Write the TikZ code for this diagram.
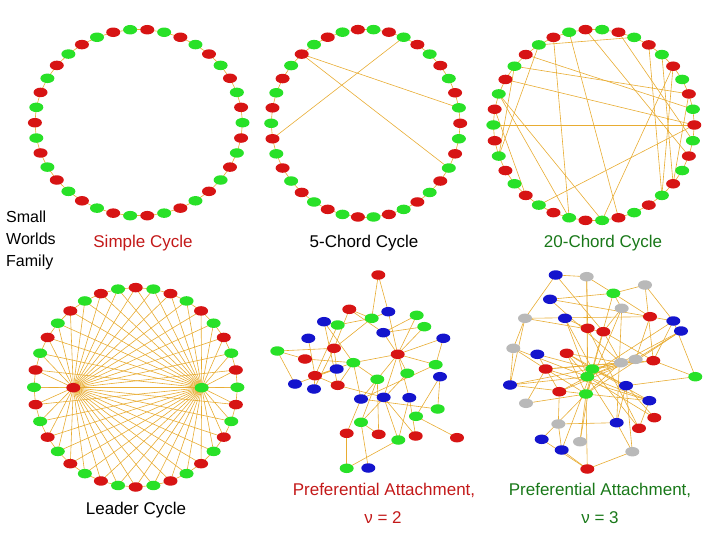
\documentclass[tikz,border=0pt]{standalone}
\usepackage{fontspec}
\setmainfont{Liberation Sans}
\usetikzlibrary{shapes.geometric}
\pgfdeclarelayer{bg}
\pgfsetlayers{bg,main}
\definecolor{nred}{RGB}{215,20,20}
\definecolor{ngreen}{RGB}{40,225,40}
\definecolor{nblue}{RGB}{20,20,205}
\definecolor{ngray}{RGB}{185,185,185}
\definecolor{edgec}{RGB}{232,172,50}
\definecolor{lred}{RGB}{195,25,25}
\definecolor{lgreen}{RGB}{25,120,25}
\tikzset{
 vx/.style={ellipse,inner sep=0pt,minimum width=14pt,minimum height=9.5pt},
 R/.style={vx,fill=nred},G/.style={vx,fill=ngreen},B/.style={vx,fill=nblue},Y/.style={vx,fill=ngray},
 ed/.style={draw=edgec,line width=0.6pt},
 lab/.style={font=\fontsize{17}{20}\selectfont,inner sep=0pt}
}
\begin{document}
\begin{tikzpicture}[x=1pt,y=-1pt]
\useasboundingbox (0,0) rectangle (720,540);
% ---------- cycles ----------
\foreach \i in {0,...,37}{
  \pgfmathsetmacro{\a}{94.737-\i*9.4737}
  \pgfmathtruncatemacro{\odd}{mod(\i,2)}
  \ifnum\odd=0 \def\ca{G}\def\cb{R}\else\def\ca{R}\def\cb{G}\fi
  \node[\ca] (a\i) at ({138.7+103.8*cos(\a)},{122.7-93.3*sin(\a)}) {};
  \node[\cb] (b\i) at ({365.7+94.5*cos(\a)},{123.3-94*sin(\a)}) {};
  \node[\cb] (c\i) at ({593.8+100.5*cos(\a)},{125-95.7*sin(\a)}) {};
}
\foreach \i in {0,...,35}{
  \pgfmathsetmacro{\a}{90-\i*10}
  \pgfmathtruncatemacro{\odd}{mod(\i,2)}
  \ifnum\odd=0 \def\ca{R}\else\def\ca{G}\fi
  \node[\ca] (d\i) at ({135.7+101.7*cos(\a)},{387.3-99.7*sin(\a)}) {};
}
\node[R] (dl) at (73.3,387.7) {};
\node[G] (dr) at (201.7,387.7) {};
\begin{pgfonlayer}{bg}
\foreach \i [evaluate=\i as \j using {int(mod(\i+1,38))}] in {0,...,37}{
  \draw[ed] (a\i.center)--(a\j.center);
  \draw[ed] (b\i.center)--(b\j.center);
  \draw[ed] (c\i.center)--(c\j.center);
}
\foreach \i [evaluate=\i as \j using {int(mod(\i+1,36))}] in {0,...,35}{
  \draw[ed] (d\i.center)--(d\j.center);
  \draw[ed] (dl.center)--(d\i.center);
  \draw[ed] (dr.center)--(d\i.center);
}
\draw[ed] (dl.center)--(dr.center);
\foreach \p/\q in {34/9,34/13,3/28}{\draw[ed] (b\p.center)--(b\q.center);}
\foreach \p/\q in {29/10,3/35,34/9,33/8,32/10,35/27,36/21,0/12,4/15,5/14,6/15,31/21,30/24,31/19,23/10,19/6,14/8,27/33,37/18,2/11}{\draw[ed] (c\p.center)--(c\q.center);}
\end{pgfonlayer}
% ---------- PA nu=2 ----------
\foreach \n/\s/\x/\y in {t/R/378.3/275, b1/B/388.3/311.7, r1/R/349.3/309.3, g1/G/371.7/318.3, g2/G/416.7/315.3, g3/G/424.3/326.7,
 b2/B/324/321.7, g4/G/337.7/325, b3/B/383.3/332.7, b4/B/308.3/338.3, b5/B/443.3/338.3, g5/G/277.3/351, r2/R/334/348.3,
 r3/R/397.7/354.3, r4/R/305/359, g6/G/353.3/362.7, g7/G/435.7/364.7, b6/B/336.7/369, g8/G/407.3/373.3, r5/R/315/375.7,
 b7/B/440/376.7, g9/G/377.3/379.3, b8/B/295/384, b9/B/314/389, r6/R/337.7/385.3, b10/B/361/399, b11/B/383.7/397.3,
 b12/B/409.3/397.7, g10/G/437.7/409, g11/G/416/416.3, g12/G/361/422.3, r7/R/346.7/433.3, r8/R/378.7/434.3, r9/R/415.7/436,
 r10/R/457/437.7, g13/G/398.3/440, g14/G/346.7/468.3, b13/B/368.3/468}
 {\node[\s] (p\n) at (\x,\y) {};}
\begin{pgfonlayer}{bg}
\foreach \p/\q in {t/g1,t/b1,r1/g1,r1/r2,g1/b1,b1/r3,g5/r2,g5/b8,g5/r4,r4/g6,b4/r5,b2/g6,b2/r6,g4/r5,g4/g1,r2/g1,g6/r3,
 b3/r3,b3/g3,g2/r3,g3/r3,b5/r3,r3/g9,r3/b11,r3/b12,g7/b5,g7/b10,b7/g10,b7/g11,g8/g12,g6/g9,g6/b10,g6/r6,r2/b6,r2/b9,
 b6/b8,b6/r5,r5/b9,r5/r6,r5/g6,g9/b10,g9/g12,g9/r8,b10/g10,b11/r9,b11/g13,b12/g13,b12/r9,g11/r10,g12/r8,g12/b13,r7/g14,
 g13/g14,b10/r7,r6/b11,g2/b3,r3/g7,g8/r3,b2/g4,r1/b3}
 {\draw[ed] (p\p.center)--(p\q.center);}
\end{pgfonlayer}
% ---------- PA nu=3 ----------
\foreach \n/\s/\x/\y in {B1/B/555.7/275, Y1/Y/586.7/276.7, Y2/Y/645/285, G1/G/613.3/293.3, B2/B/550/299.3, Y3/Y/621.7/308.3,
 R1/R/650/316.7, Y4/Y/525/318.3, B3/B/565/318.3, B4/B/673.3/321, B5/B/681/331, R2/R/587.7/328.3, R3/R/603.3/331.7,
 Y5/Y/513.3/348.3, B6/B/537.3/354.3, R4/R/566.7/353.3, Y6/Y/621/362.7, Y7/Y/635.7/359.3, R5/R/653.3/360.7, R6/R/545.7/369,
 G2/G/592.3/369, G3/G/587.3/376.7, G4/G/695.3/376.7, B7/B/510/385, B8/B/626/385.7, R7/R/559.3/391.7, G5/G/586/394,
 B9/B/649.3/400.7, Y8/Y/526/403.3, R8/R/654.3/417.7, Y9/Y/558.3/424, B10/B/616.7/422.7, R9/R/639/428.3, B11/B/541.7/439.3,
 Y10/Y/580/441.7, B12/B/561.7/450, Y11/Y/632.3/451.7, R10/R/587.3/469}
 {\node[\s] (q\n) at (\x,\y) {};}
\begin{pgfonlayer}{bg}
\foreach \p/\q in {B1/Y1,B1/Y4,B1/R3,Y1/G1,Y1/R2,Y1/G3,Y2/G1,Y2/B4,Y2/R5,G1/B2,G1/Y3,G1/R1,G1/G2,B2/R1,B2/Y6,Y3/R3,Y3/G5,
 Y3/B10,R1/Y4,R1/B4,R1/Y7,Y4/R3,Y4/Y5,Y4/B7,B3/R2,B3/G2,B4/R5,B4/G3,B4/G4,B5/Y6,B5/G5,B5/Y7,R2/G3,R2/R9,R3/Y6,R3/G5,
 R3/R5,Y5/R6,Y5/B7,Y5/G3,B6/G2,B6/R7,R4/G2,R4/Y6,R4/B8,R4/G5,Y6/R6,Y6/G5,Y6/B7,Y7/G3,Y7/R7,R5/G4,R5/R6,R5/G2,R6/G5,
 R6/B9,R6/Y8,G2/B8,G2/Y7,G3/B7,G3/B9,G3/R8,G3/Y6,G4/B8,B7/G5,B8/B10,B8/R8,B8/Y11,R7/G3,R7/Y9,G5/Y8,G5/R10,G5/B11,
 G5/Y10,G5/B9,B9/R9,B9/G2,Y9/B12,Y9/B10,B10/Y11,B10/G3,R9/G2,B11/R10,B12/R10,Y11/R10,Y10/G2,B12/G2,B3/G3,R4/G3}
 {\draw[ed] (q\p.center)--(q\q.center);}
\end{pgfonlayer}
% ---------- labels ----------
\node[anchor=west,align=left,font=\fontsize{16}{22}\selectfont,inner sep=0pt] (fam) at (6,240) {Small\\Worlds\\Family};
\node[lab,text=lred] (l1) at (143,243) {Simple Cycle};
\node[lab] (l2) at (364,243) {5-Chord Cycle};
\node[lab,text=lgreen] (l3) at (603,243) {20-Chord Cycle};
\node[lab] (l4) at (136,510) {Leader Cycle};
\node[lab,text=lred] (l5) at (384,490) {Preferential Attachment,};
\node[lab,text=lred] (l6) at (383,518) {ν = 2};
\node[lab,text=lgreen] (l7) at (600,490) {Preferential Attachment,};
\node[lab,text=lgreen] (l8) at (600,518) {ν = 3};
\end{tikzpicture}
\end{document}
